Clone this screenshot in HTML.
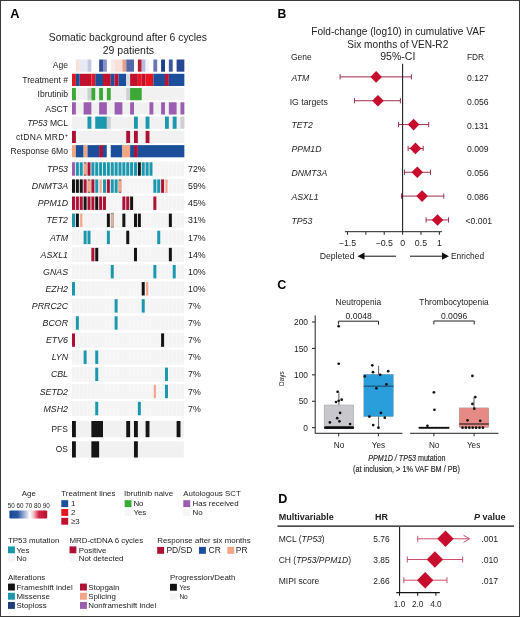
<!DOCTYPE html>
<html><head><meta charset="utf-8"><title>Figure</title>
<style>
html,body{margin:0;padding:0;background:#fff;}
body{width:520px;height:617px;overflow:hidden;}
svg{display:block;will-change:transform;font-family:"Liberation Sans", sans-serif;}
</style></head><body>
<svg width="520" height="617" viewBox="0 0 520 617">
<rect x="0" y="0" width="520" height="617" fill="#fff"/>
<text x="10.30" y="18.30" font-size="12.8" text-anchor="start" font-weight="bold" font-style="normal" fill="#000" >A</text>
<text x="127.90" y="40.80" font-size="10.35" text-anchor="middle" font-weight="normal" font-style="normal" fill="#222" >Somatic background after 6 cycles</text>
<text x="128.40" y="53.90" font-size="10.5" text-anchor="middle" font-weight="normal" font-style="normal" fill="#222" >29 patients</text>
<text x="68.00" y="67.80" font-size="8.55" text-anchor="end" font-weight="normal" font-style="normal" fill="#222" >Age</text>
<text x="68.00" y="82.97" font-size="8.55" text-anchor="end" font-weight="normal" font-style="normal" fill="#222" >Treatment #</text>
<text x="68.00" y="97.24" font-size="8.55" text-anchor="end" font-weight="normal" font-style="normal" fill="#222" >Ibrutinib</text>
<text x="68.00" y="111.51" font-size="8.55" text-anchor="end" font-weight="normal" font-style="normal" fill="#222" >ASCT</text>
<text x="68.00" y="125.78" font-size="8.55" text-anchor="end" font-weight="normal" font-style="normal" fill="#222" ><tspan font-style="italic">TP53</tspan> MCL</text>
<text x="68.00" y="140.05" font-size="8.55" text-anchor="end" font-weight="normal" font-style="normal" fill="#222" ><tspan letter-spacing="0.3">ctDNA MRD</tspan><tspan font-size="5.6" dy="-3">+</tspan></text>
<text x="68.00" y="154.32" font-size="8.55" text-anchor="end" font-weight="normal" font-style="normal" fill="#222" >Response 6Mo</text>
<rect x="75.87" y="59.50" width="3.87" height="12.20" fill="#f7dfda" />
<rect x="79.75" y="59.50" width="7.75" height="12.20" fill="#e7e9f3" />
<rect x="87.50" y="59.50" width="3.87" height="12.20" fill="#c4c8e2" />
<rect x="99.12" y="59.50" width="3.87" height="12.20" fill="#324f97" />
<rect x="102.99" y="59.50" width="3.87" height="12.20" fill="#8890c4" />
<rect x="110.74" y="59.50" width="3.87" height="12.20" fill="#faeae6" />
<rect x="114.61" y="59.50" width="7.75" height="12.20" fill="#f7dfda" />
<rect x="122.36" y="59.50" width="3.87" height="12.20" fill="#e79f90" />
<rect x="126.24" y="59.50" width="7.75" height="12.20" fill="#5268a8" />
<rect x="137.86" y="59.50" width="3.87" height="12.20" fill="#b51d35" />
<rect x="141.73" y="59.50" width="3.87" height="12.20" fill="#b8bcdc" />
<rect x="145.61" y="59.50" width="3.87" height="12.20" fill="#f3f4f9" />
<rect x="153.35" y="59.50" width="3.87" height="12.20" fill="#6878b3" />
<rect x="161.10" y="59.50" width="3.87" height="12.20" fill="#1d3f8c" />
<rect x="168.85" y="59.50" width="3.87" height="12.20" fill="#3d579d" />
<rect x="176.60" y="59.50" width="7.75" height="12.20" fill="#284792" />
<rect x="72.00" y="73.77" width="3.87" height="12.20" fill="#e5161f" />
<rect x="75.87" y="73.77" width="3.87" height="12.20" fill="#1b4f9b" />
<rect x="79.75" y="73.77" width="11.62" height="12.20" fill="#c1112f" />
<rect x="91.37" y="73.77" width="3.87" height="12.20" fill="#e5161f" />
<rect x="95.24" y="73.77" width="7.75" height="12.20" fill="#1b4f9b" />
<rect x="102.99" y="73.77" width="7.75" height="12.20" fill="#c1112f" />
<rect x="110.74" y="73.77" width="3.87" height="12.20" fill="#1b4f9b" />
<rect x="114.61" y="73.77" width="3.87" height="12.20" fill="#c1112f" />
<rect x="118.49" y="73.77" width="7.75" height="12.20" fill="#1b4f9b" />
<rect x="126.24" y="73.77" width="3.87" height="12.20" fill="#d9dadc" />
<rect x="130.11" y="73.77" width="7.75" height="12.20" fill="#c1112f" />
<rect x="137.86" y="73.77" width="3.87" height="12.20" fill="#e5161f" />
<rect x="141.73" y="73.77" width="3.87" height="12.20" fill="#c1112f" />
<rect x="145.61" y="73.77" width="7.75" height="12.20" fill="#e5161f" />
<rect x="153.35" y="73.77" width="11.62" height="12.20" fill="#1b4f9b" />
<rect x="164.98" y="73.77" width="3.87" height="12.20" fill="#c1112f" />
<rect x="168.85" y="73.77" width="15.50" height="12.20" fill="#1b4f9b" />
<rect x="72.00" y="88.04" width="112.35" height="12.20" fill="#f1f1f1" />
<rect x="72.00" y="88.04" width="3.87" height="12.20" fill="#3aa935" />
<rect x="87.50" y="88.04" width="3.87" height="12.20" fill="#cfd0d4" />
<rect x="91.37" y="88.04" width="3.87" height="12.20" fill="#3aa935" />
<rect x="99.12" y="88.04" width="3.87" height="12.20" fill="#3aa935" />
<rect x="106.87" y="88.04" width="3.87" height="12.20" fill="#3aa935" />
<rect x="126.24" y="88.04" width="3.87" height="12.20" fill="#cfd0d4" />
<rect x="130.11" y="88.04" width="11.62" height="12.20" fill="#3aa935" />
<rect x="72.00" y="102.31" width="112.35" height="12.20" fill="#f1f1f1" />
<rect x="72.00" y="102.31" width="3.87" height="12.20" fill="#9a5db0" />
<rect x="83.62" y="102.31" width="7.75" height="12.20" fill="#9a5db0" />
<rect x="99.12" y="102.31" width="7.75" height="12.20" fill="#9a5db0" />
<rect x="114.61" y="102.31" width="7.75" height="12.20" fill="#9a5db0" />
<rect x="130.11" y="102.31" width="3.87" height="12.20" fill="#9a5db0" />
<rect x="149.48" y="102.31" width="3.87" height="12.20" fill="#9a5db0" />
<rect x="161.10" y="102.31" width="3.87" height="12.20" fill="#9a5db0" />
<rect x="168.85" y="102.31" width="7.75" height="12.20" fill="#9a5db0" />
<rect x="180.47" y="102.31" width="3.87" height="12.20" fill="#9a5db0" />
<rect x="72.00" y="116.58" width="112.35" height="12.20" fill="#f1f1f1" />
<rect x="87.50" y="116.58" width="3.87" height="12.20" fill="#1b98ae" />
<rect x="95.24" y="116.58" width="11.62" height="12.20" fill="#1b98ae" />
<rect x="106.87" y="116.58" width="3.87" height="12.20" fill="#cfd0d4" />
<rect x="133.98" y="116.58" width="3.87" height="12.20" fill="#1b98ae" />
<rect x="145.61" y="116.58" width="3.87" height="12.20" fill="#1b98ae" />
<rect x="164.98" y="116.58" width="3.87" height="12.20" fill="#1b98ae" />
<rect x="172.72" y="116.58" width="3.87" height="12.20" fill="#1b98ae" />
<rect x="180.47" y="116.58" width="3.87" height="12.20" fill="#cfd0d4" />
<rect x="72.00" y="130.85" width="112.35" height="12.20" fill="#f1f1f1" />
<rect x="72.00" y="130.85" width="3.87" height="12.20" fill="#ad1236" />
<rect x="126.24" y="130.85" width="3.87" height="12.20" fill="#ad1236" />
<rect x="133.98" y="130.85" width="3.87" height="12.20" fill="#ad1236" />
<rect x="145.61" y="130.85" width="3.87" height="12.20" fill="#ad1236" />
<rect x="72.00" y="145.12" width="3.87" height="12.20" fill="#f4a582" />
<rect x="75.87" y="145.12" width="7.75" height="12.20" fill="#1b4f9b" />
<rect x="83.62" y="145.12" width="3.87" height="12.20" fill="#f4a582" />
<rect x="87.50" y="145.12" width="11.62" height="12.20" fill="#1b4f9b" />
<rect x="99.12" y="145.12" width="3.87" height="12.20" fill="#ad1236" />
<rect x="102.99" y="145.12" width="3.87" height="12.20" fill="#1b4f9b" />
<rect x="106.87" y="145.12" width="3.87" height="12.20" fill="#ffffff" />
<rect x="110.74" y="145.12" width="11.62" height="12.20" fill="#1b4f9b" />
<rect x="122.36" y="145.12" width="7.75" height="12.20" fill="#f4a582" />
<rect x="130.11" y="145.12" width="3.87" height="12.20" fill="#1b4f9b" />
<rect x="133.98" y="145.12" width="3.87" height="12.20" fill="#ad1236" />
<rect x="137.86" y="145.12" width="46.49" height="12.20" fill="#1b4f9b" />
<rect x="72.00" y="161.60" width="111.95" height="14.80" fill="#f4f4f4" />
<rect x="75.57" y="161.60" width="0.30" height="14.80" fill="#ffffff" />
<rect x="79.45" y="161.60" width="0.30" height="14.80" fill="#ffffff" />
<rect x="83.32" y="161.60" width="0.30" height="14.80" fill="#ffffff" />
<rect x="87.20" y="161.60" width="0.30" height="14.80" fill="#ffffff" />
<rect x="91.07" y="161.60" width="0.30" height="14.80" fill="#ffffff" />
<rect x="94.94" y="161.60" width="0.30" height="14.80" fill="#ffffff" />
<rect x="98.82" y="161.60" width="0.30" height="14.80" fill="#ffffff" />
<rect x="102.69" y="161.60" width="0.30" height="14.80" fill="#ffffff" />
<rect x="106.57" y="161.60" width="0.30" height="14.80" fill="#ffffff" />
<rect x="110.44" y="161.60" width="0.30" height="14.80" fill="#ffffff" />
<rect x="114.31" y="161.60" width="0.30" height="14.80" fill="#ffffff" />
<rect x="118.19" y="161.60" width="0.30" height="14.80" fill="#ffffff" />
<rect x="122.06" y="161.60" width="0.30" height="14.80" fill="#ffffff" />
<rect x="125.94" y="161.60" width="0.30" height="14.80" fill="#ffffff" />
<rect x="129.81" y="161.60" width="0.30" height="14.80" fill="#ffffff" />
<rect x="133.68" y="161.60" width="0.30" height="14.80" fill="#ffffff" />
<rect x="137.56" y="161.60" width="0.30" height="14.80" fill="#ffffff" />
<rect x="141.43" y="161.60" width="0.30" height="14.80" fill="#ffffff" />
<rect x="145.31" y="161.60" width="0.30" height="14.80" fill="#ffffff" />
<rect x="149.18" y="161.60" width="0.30" height="14.80" fill="#ffffff" />
<rect x="153.05" y="161.60" width="0.30" height="14.80" fill="#ffffff" />
<rect x="156.93" y="161.60" width="0.30" height="14.80" fill="#ffffff" />
<rect x="160.80" y="161.60" width="0.30" height="14.80" fill="#ffffff" />
<rect x="164.68" y="161.60" width="0.30" height="14.80" fill="#ffffff" />
<rect x="168.55" y="161.60" width="0.30" height="14.80" fill="#ffffff" />
<rect x="172.42" y="161.60" width="0.30" height="14.80" fill="#ffffff" />
<rect x="176.30" y="161.60" width="0.30" height="14.80" fill="#ffffff" />
<rect x="180.17" y="161.60" width="0.30" height="14.80" fill="#ffffff" />
<rect x="72.00" y="162.30" width="3.00" height="13.40" fill="#9a5db0" />
<rect x="75.87" y="162.30" width="3.00" height="13.40" fill="#1b98ae" />
<rect x="79.75" y="162.30" width="3.00" height="13.40" fill="#1b98ae" />
<rect x="83.82" y="162.30" width="2.60" height="13.40" fill="#6b5a48" />
<rect x="83.82" y="163.40" width="2.60" height="11.20" fill="#f3a68a" />
<rect x="87.50" y="162.30" width="3.00" height="13.40" fill="#ad1236" />
<rect x="91.37" y="162.30" width="3.00" height="13.40" fill="#1b98ae" />
<rect x="95.24" y="162.30" width="3.00" height="13.40" fill="#1b98ae" />
<rect x="99.12" y="162.30" width="3.00" height="13.40" fill="#1b98ae" />
<rect x="102.99" y="162.30" width="3.00" height="13.40" fill="#1b98ae" />
<rect x="106.87" y="162.30" width="3.00" height="13.40" fill="#1b98ae" />
<rect x="110.74" y="162.30" width="3.00" height="13.40" fill="#1b98ae" />
<rect x="114.61" y="162.30" width="3.00" height="13.40" fill="#1b98ae" />
<rect x="118.49" y="162.30" width="3.00" height="13.40" fill="#1b98ae" />
<rect x="122.36" y="162.30" width="3.00" height="13.40" fill="#1b98ae" />
<rect x="126.24" y="162.30" width="3.00" height="13.40" fill="#1b98ae" />
<rect x="130.11" y="162.30" width="3.00" height="13.40" fill="#1b98ae" />
<rect x="133.98" y="162.30" width="3.00" height="13.40" fill="#1b98ae" />
<rect x="137.86" y="162.30" width="3.00" height="13.40" fill="#141414" />
<rect x="141.73" y="162.30" width="3.00" height="13.40" fill="#1b98ae" />
<rect x="145.61" y="162.30" width="3.00" height="13.40" fill="#1b98ae" />
<rect x="149.48" y="162.30" width="3.00" height="13.40" fill="#1b98ae" />
<text x="68.00" y="172.10" font-size="8.8" text-anchor="end" font-weight="normal" font-style="italic" fill="#222" >TP53</text>
<text x="188.00" y="172.10" font-size="8.8" text-anchor="start" font-weight="normal" font-style="normal" fill="#222" >72%</text>
<rect x="72.00" y="178.71" width="111.95" height="14.80" fill="#f4f4f4" />
<rect x="75.57" y="178.71" width="0.30" height="14.80" fill="#ffffff" />
<rect x="79.45" y="178.71" width="0.30" height="14.80" fill="#ffffff" />
<rect x="83.32" y="178.71" width="0.30" height="14.80" fill="#ffffff" />
<rect x="87.20" y="178.71" width="0.30" height="14.80" fill="#ffffff" />
<rect x="91.07" y="178.71" width="0.30" height="14.80" fill="#ffffff" />
<rect x="94.94" y="178.71" width="0.30" height="14.80" fill="#ffffff" />
<rect x="98.82" y="178.71" width="0.30" height="14.80" fill="#ffffff" />
<rect x="102.69" y="178.71" width="0.30" height="14.80" fill="#ffffff" />
<rect x="106.57" y="178.71" width="0.30" height="14.80" fill="#ffffff" />
<rect x="110.44" y="178.71" width="0.30" height="14.80" fill="#ffffff" />
<rect x="114.31" y="178.71" width="0.30" height="14.80" fill="#ffffff" />
<rect x="118.19" y="178.71" width="0.30" height="14.80" fill="#ffffff" />
<rect x="122.06" y="178.71" width="0.30" height="14.80" fill="#ffffff" />
<rect x="125.94" y="178.71" width="0.30" height="14.80" fill="#ffffff" />
<rect x="129.81" y="178.71" width="0.30" height="14.80" fill="#ffffff" />
<rect x="133.68" y="178.71" width="0.30" height="14.80" fill="#ffffff" />
<rect x="137.56" y="178.71" width="0.30" height="14.80" fill="#ffffff" />
<rect x="141.43" y="178.71" width="0.30" height="14.80" fill="#ffffff" />
<rect x="145.31" y="178.71" width="0.30" height="14.80" fill="#ffffff" />
<rect x="149.18" y="178.71" width="0.30" height="14.80" fill="#ffffff" />
<rect x="153.05" y="178.71" width="0.30" height="14.80" fill="#ffffff" />
<rect x="156.93" y="178.71" width="0.30" height="14.80" fill="#ffffff" />
<rect x="160.80" y="178.71" width="0.30" height="14.80" fill="#ffffff" />
<rect x="164.68" y="178.71" width="0.30" height="14.80" fill="#ffffff" />
<rect x="168.55" y="178.71" width="0.30" height="14.80" fill="#ffffff" />
<rect x="172.42" y="178.71" width="0.30" height="14.80" fill="#ffffff" />
<rect x="176.30" y="178.71" width="0.30" height="14.80" fill="#ffffff" />
<rect x="180.17" y="178.71" width="0.30" height="14.80" fill="#ffffff" />
<rect x="72.00" y="179.41" width="3.00" height="13.40" fill="#141414" />
<rect x="75.87" y="179.41" width="3.00" height="13.40" fill="#141414" />
<rect x="79.75" y="179.41" width="3.00" height="13.40" fill="#141414" />
<rect x="83.62" y="179.41" width="3.00" height="13.40" fill="#ad1236" />
<rect x="87.70" y="179.41" width="2.60" height="13.40" fill="#6b5a48" />
<rect x="87.70" y="180.51" width="2.60" height="11.20" fill="#f3a68a" />
<rect x="91.37" y="179.41" width="3.00" height="13.40" fill="#ad1236" />
<rect x="95.24" y="179.41" width="3.00" height="13.40" fill="#1b98ae" />
<rect x="99.52" y="179.41" width="2.20" height="13.40" fill="#f3a68a" />
<rect x="102.99" y="179.41" width="3.00" height="13.40" fill="#1b98ae" />
<rect x="106.87" y="179.41" width="3.00" height="13.40" fill="#ad1236" />
<rect x="110.74" y="179.41" width="3.00" height="13.40" fill="#1b98ae" />
<rect x="114.61" y="179.41" width="3.00" height="13.40" fill="#1b98ae" />
<rect x="118.69" y="179.41" width="2.60" height="13.40" fill="#6b5a48" />
<rect x="118.69" y="180.51" width="2.60" height="11.20" fill="#f3a68a" />
<rect x="153.35" y="179.41" width="3.00" height="13.40" fill="#1b98ae" />
<rect x="157.23" y="179.41" width="3.00" height="13.40" fill="#1b98ae" />
<rect x="161.10" y="179.41" width="3.00" height="13.40" fill="#ad1236" />
<rect x="165.38" y="179.41" width="2.20" height="13.40" fill="#f3a68a" />
<text x="68.00" y="189.21" font-size="8.8" text-anchor="end" font-weight="normal" font-style="italic" fill="#222" >DNMT3A</text>
<text x="188.00" y="189.21" font-size="8.8" text-anchor="start" font-weight="normal" font-style="normal" fill="#222" >59%</text>
<rect x="72.00" y="195.82" width="111.95" height="14.80" fill="#f4f4f4" />
<rect x="75.57" y="195.82" width="0.30" height="14.80" fill="#ffffff" />
<rect x="79.45" y="195.82" width="0.30" height="14.80" fill="#ffffff" />
<rect x="83.32" y="195.82" width="0.30" height="14.80" fill="#ffffff" />
<rect x="87.20" y="195.82" width="0.30" height="14.80" fill="#ffffff" />
<rect x="91.07" y="195.82" width="0.30" height="14.80" fill="#ffffff" />
<rect x="94.94" y="195.82" width="0.30" height="14.80" fill="#ffffff" />
<rect x="98.82" y="195.82" width="0.30" height="14.80" fill="#ffffff" />
<rect x="102.69" y="195.82" width="0.30" height="14.80" fill="#ffffff" />
<rect x="106.57" y="195.82" width="0.30" height="14.80" fill="#ffffff" />
<rect x="110.44" y="195.82" width="0.30" height="14.80" fill="#ffffff" />
<rect x="114.31" y="195.82" width="0.30" height="14.80" fill="#ffffff" />
<rect x="118.19" y="195.82" width="0.30" height="14.80" fill="#ffffff" />
<rect x="122.06" y="195.82" width="0.30" height="14.80" fill="#ffffff" />
<rect x="125.94" y="195.82" width="0.30" height="14.80" fill="#ffffff" />
<rect x="129.81" y="195.82" width="0.30" height="14.80" fill="#ffffff" />
<rect x="133.68" y="195.82" width="0.30" height="14.80" fill="#ffffff" />
<rect x="137.56" y="195.82" width="0.30" height="14.80" fill="#ffffff" />
<rect x="141.43" y="195.82" width="0.30" height="14.80" fill="#ffffff" />
<rect x="145.31" y="195.82" width="0.30" height="14.80" fill="#ffffff" />
<rect x="149.18" y="195.82" width="0.30" height="14.80" fill="#ffffff" />
<rect x="153.05" y="195.82" width="0.30" height="14.80" fill="#ffffff" />
<rect x="156.93" y="195.82" width="0.30" height="14.80" fill="#ffffff" />
<rect x="160.80" y="195.82" width="0.30" height="14.80" fill="#ffffff" />
<rect x="164.68" y="195.82" width="0.30" height="14.80" fill="#ffffff" />
<rect x="168.55" y="195.82" width="0.30" height="14.80" fill="#ffffff" />
<rect x="172.42" y="195.82" width="0.30" height="14.80" fill="#ffffff" />
<rect x="176.30" y="195.82" width="0.30" height="14.80" fill="#ffffff" />
<rect x="180.17" y="195.82" width="0.30" height="14.80" fill="#ffffff" />
<rect x="72.00" y="196.52" width="3.00" height="13.40" fill="#ad1236" />
<rect x="75.87" y="196.52" width="3.00" height="13.40" fill="#ad1236" />
<rect x="79.75" y="196.52" width="3.00" height="13.40" fill="#ad1236" />
<rect x="83.62" y="196.52" width="3.00" height="13.40" fill="#141414" />
<rect x="87.50" y="196.52" width="3.00" height="13.40" fill="#ad1236" />
<rect x="91.37" y="196.52" width="3.00" height="13.40" fill="#ad1236" />
<rect x="95.24" y="196.52" width="3.00" height="13.40" fill="#141414" />
<rect x="99.12" y="196.52" width="3.00" height="13.40" fill="#ad1236" />
<rect x="102.99" y="196.52" width="3.00" height="13.40" fill="#ad1236" />
<rect x="122.36" y="196.52" width="3.00" height="13.40" fill="#ad1236" />
<rect x="126.24" y="196.52" width="3.00" height="13.40" fill="#ad1236" />
<rect x="130.11" y="196.52" width="3.00" height="13.40" fill="#141414" />
<rect x="153.35" y="196.52" width="3.00" height="13.40" fill="#ad1236" />
<text x="68.00" y="206.32" font-size="8.8" text-anchor="end" font-weight="normal" font-style="italic" fill="#222" >PPM1D</text>
<text x="188.00" y="206.32" font-size="8.8" text-anchor="start" font-weight="normal" font-style="normal" fill="#222" >45%</text>
<rect x="72.00" y="212.93" width="111.95" height="14.80" fill="#f4f4f4" />
<rect x="75.57" y="212.93" width="0.30" height="14.80" fill="#ffffff" />
<rect x="79.45" y="212.93" width="0.30" height="14.80" fill="#ffffff" />
<rect x="83.32" y="212.93" width="0.30" height="14.80" fill="#ffffff" />
<rect x="87.20" y="212.93" width="0.30" height="14.80" fill="#ffffff" />
<rect x="91.07" y="212.93" width="0.30" height="14.80" fill="#ffffff" />
<rect x="94.94" y="212.93" width="0.30" height="14.80" fill="#ffffff" />
<rect x="98.82" y="212.93" width="0.30" height="14.80" fill="#ffffff" />
<rect x="102.69" y="212.93" width="0.30" height="14.80" fill="#ffffff" />
<rect x="106.57" y="212.93" width="0.30" height="14.80" fill="#ffffff" />
<rect x="110.44" y="212.93" width="0.30" height="14.80" fill="#ffffff" />
<rect x="114.31" y="212.93" width="0.30" height="14.80" fill="#ffffff" />
<rect x="118.19" y="212.93" width="0.30" height="14.80" fill="#ffffff" />
<rect x="122.06" y="212.93" width="0.30" height="14.80" fill="#ffffff" />
<rect x="125.94" y="212.93" width="0.30" height="14.80" fill="#ffffff" />
<rect x="129.81" y="212.93" width="0.30" height="14.80" fill="#ffffff" />
<rect x="133.68" y="212.93" width="0.30" height="14.80" fill="#ffffff" />
<rect x="137.56" y="212.93" width="0.30" height="14.80" fill="#ffffff" />
<rect x="141.43" y="212.93" width="0.30" height="14.80" fill="#ffffff" />
<rect x="145.31" y="212.93" width="0.30" height="14.80" fill="#ffffff" />
<rect x="149.18" y="212.93" width="0.30" height="14.80" fill="#ffffff" />
<rect x="153.05" y="212.93" width="0.30" height="14.80" fill="#ffffff" />
<rect x="156.93" y="212.93" width="0.30" height="14.80" fill="#ffffff" />
<rect x="160.80" y="212.93" width="0.30" height="14.80" fill="#ffffff" />
<rect x="164.68" y="212.93" width="0.30" height="14.80" fill="#ffffff" />
<rect x="168.55" y="212.93" width="0.30" height="14.80" fill="#ffffff" />
<rect x="172.42" y="212.93" width="0.30" height="14.80" fill="#ffffff" />
<rect x="176.30" y="212.93" width="0.30" height="14.80" fill="#ffffff" />
<rect x="180.17" y="212.93" width="0.30" height="14.80" fill="#ffffff" />
<rect x="72.00" y="213.63" width="3.00" height="13.40" fill="#1b98ae" />
<rect x="75.87" y="213.63" width="3.00" height="13.40" fill="#141414" />
<rect x="80.15" y="213.63" width="2.20" height="13.40" fill="#f3a68a" />
<rect x="106.87" y="213.63" width="3.00" height="13.40" fill="#141414" />
<rect x="110.84" y="212.83" width="3.00" height="15.00" fill="#a49a92" />
<rect x="111.24" y="214.43" width="2.20" height="11.80" fill="#dcb4a4" />
<rect x="122.36" y="213.63" width="3.00" height="13.40" fill="#141414" />
<rect x="133.98" y="213.63" width="3.00" height="13.40" fill="#141414" />
<rect x="137.86" y="213.63" width="3.00" height="13.40" fill="#141414" />
<rect x="168.85" y="213.63" width="3.00" height="13.40" fill="#141414" />
<text x="68.00" y="223.43" font-size="8.8" text-anchor="end" font-weight="normal" font-style="italic" fill="#222" >TET2</text>
<text x="188.00" y="223.43" font-size="8.8" text-anchor="start" font-weight="normal" font-style="normal" fill="#222" >31%</text>
<rect x="72.00" y="230.04" width="111.95" height="14.80" fill="#f4f4f4" />
<rect x="75.57" y="230.04" width="0.30" height="14.80" fill="#ffffff" />
<rect x="79.45" y="230.04" width="0.30" height="14.80" fill="#ffffff" />
<rect x="83.32" y="230.04" width="0.30" height="14.80" fill="#ffffff" />
<rect x="87.20" y="230.04" width="0.30" height="14.80" fill="#ffffff" />
<rect x="91.07" y="230.04" width="0.30" height="14.80" fill="#ffffff" />
<rect x="94.94" y="230.04" width="0.30" height="14.80" fill="#ffffff" />
<rect x="98.82" y="230.04" width="0.30" height="14.80" fill="#ffffff" />
<rect x="102.69" y="230.04" width="0.30" height="14.80" fill="#ffffff" />
<rect x="106.57" y="230.04" width="0.30" height="14.80" fill="#ffffff" />
<rect x="110.44" y="230.04" width="0.30" height="14.80" fill="#ffffff" />
<rect x="114.31" y="230.04" width="0.30" height="14.80" fill="#ffffff" />
<rect x="118.19" y="230.04" width="0.30" height="14.80" fill="#ffffff" />
<rect x="122.06" y="230.04" width="0.30" height="14.80" fill="#ffffff" />
<rect x="125.94" y="230.04" width="0.30" height="14.80" fill="#ffffff" />
<rect x="129.81" y="230.04" width="0.30" height="14.80" fill="#ffffff" />
<rect x="133.68" y="230.04" width="0.30" height="14.80" fill="#ffffff" />
<rect x="137.56" y="230.04" width="0.30" height="14.80" fill="#ffffff" />
<rect x="141.43" y="230.04" width="0.30" height="14.80" fill="#ffffff" />
<rect x="145.31" y="230.04" width="0.30" height="14.80" fill="#ffffff" />
<rect x="149.18" y="230.04" width="0.30" height="14.80" fill="#ffffff" />
<rect x="153.05" y="230.04" width="0.30" height="14.80" fill="#ffffff" />
<rect x="156.93" y="230.04" width="0.30" height="14.80" fill="#ffffff" />
<rect x="160.80" y="230.04" width="0.30" height="14.80" fill="#ffffff" />
<rect x="164.68" y="230.04" width="0.30" height="14.80" fill="#ffffff" />
<rect x="168.55" y="230.04" width="0.30" height="14.80" fill="#ffffff" />
<rect x="172.42" y="230.04" width="0.30" height="14.80" fill="#ffffff" />
<rect x="176.30" y="230.04" width="0.30" height="14.80" fill="#ffffff" />
<rect x="180.17" y="230.04" width="0.30" height="14.80" fill="#ffffff" />
<rect x="83.62" y="230.74" width="3.00" height="13.40" fill="#1b98ae" />
<rect x="87.50" y="230.74" width="3.00" height="13.40" fill="#1b98ae" />
<rect x="106.87" y="230.74" width="3.00" height="13.40" fill="#1b98ae" />
<rect x="126.24" y="230.74" width="3.00" height="13.40" fill="#141414" />
<rect x="157.23" y="230.74" width="3.00" height="13.40" fill="#1b98ae" />
<text x="68.00" y="240.54" font-size="8.8" text-anchor="end" font-weight="normal" font-style="italic" fill="#222" >ATM</text>
<text x="188.00" y="240.54" font-size="8.8" text-anchor="start" font-weight="normal" font-style="normal" fill="#222" >17%</text>
<rect x="72.00" y="247.15" width="111.95" height="14.80" fill="#f4f4f4" />
<rect x="75.57" y="247.15" width="0.30" height="14.80" fill="#ffffff" />
<rect x="79.45" y="247.15" width="0.30" height="14.80" fill="#ffffff" />
<rect x="83.32" y="247.15" width="0.30" height="14.80" fill="#ffffff" />
<rect x="87.20" y="247.15" width="0.30" height="14.80" fill="#ffffff" />
<rect x="91.07" y="247.15" width="0.30" height="14.80" fill="#ffffff" />
<rect x="94.94" y="247.15" width="0.30" height="14.80" fill="#ffffff" />
<rect x="98.82" y="247.15" width="0.30" height="14.80" fill="#ffffff" />
<rect x="102.69" y="247.15" width="0.30" height="14.80" fill="#ffffff" />
<rect x="106.57" y="247.15" width="0.30" height="14.80" fill="#ffffff" />
<rect x="110.44" y="247.15" width="0.30" height="14.80" fill="#ffffff" />
<rect x="114.31" y="247.15" width="0.30" height="14.80" fill="#ffffff" />
<rect x="118.19" y="247.15" width="0.30" height="14.80" fill="#ffffff" />
<rect x="122.06" y="247.15" width="0.30" height="14.80" fill="#ffffff" />
<rect x="125.94" y="247.15" width="0.30" height="14.80" fill="#ffffff" />
<rect x="129.81" y="247.15" width="0.30" height="14.80" fill="#ffffff" />
<rect x="133.68" y="247.15" width="0.30" height="14.80" fill="#ffffff" />
<rect x="137.56" y="247.15" width="0.30" height="14.80" fill="#ffffff" />
<rect x="141.43" y="247.15" width="0.30" height="14.80" fill="#ffffff" />
<rect x="145.31" y="247.15" width="0.30" height="14.80" fill="#ffffff" />
<rect x="149.18" y="247.15" width="0.30" height="14.80" fill="#ffffff" />
<rect x="153.05" y="247.15" width="0.30" height="14.80" fill="#ffffff" />
<rect x="156.93" y="247.15" width="0.30" height="14.80" fill="#ffffff" />
<rect x="160.80" y="247.15" width="0.30" height="14.80" fill="#ffffff" />
<rect x="164.68" y="247.15" width="0.30" height="14.80" fill="#ffffff" />
<rect x="168.55" y="247.15" width="0.30" height="14.80" fill="#ffffff" />
<rect x="172.42" y="247.15" width="0.30" height="14.80" fill="#ffffff" />
<rect x="176.30" y="247.15" width="0.30" height="14.80" fill="#ffffff" />
<rect x="180.17" y="247.15" width="0.30" height="14.80" fill="#ffffff" />
<rect x="91.37" y="247.85" width="3.00" height="13.40" fill="#ad1236" />
<rect x="95.24" y="247.85" width="3.00" height="13.40" fill="#141414" />
<rect x="133.98" y="247.85" width="3.00" height="13.40" fill="#141414" />
<rect x="168.85" y="247.85" width="3.00" height="13.40" fill="#141414" />
<text x="68.00" y="257.65" font-size="8.8" text-anchor="end" font-weight="normal" font-style="italic" fill="#222" >ASXL1</text>
<text x="188.00" y="257.65" font-size="8.8" text-anchor="start" font-weight="normal" font-style="normal" fill="#222" >14%</text>
<rect x="72.00" y="264.26" width="111.95" height="14.80" fill="#f4f4f4" />
<rect x="75.57" y="264.26" width="0.30" height="14.80" fill="#ffffff" />
<rect x="79.45" y="264.26" width="0.30" height="14.80" fill="#ffffff" />
<rect x="83.32" y="264.26" width="0.30" height="14.80" fill="#ffffff" />
<rect x="87.20" y="264.26" width="0.30" height="14.80" fill="#ffffff" />
<rect x="91.07" y="264.26" width="0.30" height="14.80" fill="#ffffff" />
<rect x="94.94" y="264.26" width="0.30" height="14.80" fill="#ffffff" />
<rect x="98.82" y="264.26" width="0.30" height="14.80" fill="#ffffff" />
<rect x="102.69" y="264.26" width="0.30" height="14.80" fill="#ffffff" />
<rect x="106.57" y="264.26" width="0.30" height="14.80" fill="#ffffff" />
<rect x="110.44" y="264.26" width="0.30" height="14.80" fill="#ffffff" />
<rect x="114.31" y="264.26" width="0.30" height="14.80" fill="#ffffff" />
<rect x="118.19" y="264.26" width="0.30" height="14.80" fill="#ffffff" />
<rect x="122.06" y="264.26" width="0.30" height="14.80" fill="#ffffff" />
<rect x="125.94" y="264.26" width="0.30" height="14.80" fill="#ffffff" />
<rect x="129.81" y="264.26" width="0.30" height="14.80" fill="#ffffff" />
<rect x="133.68" y="264.26" width="0.30" height="14.80" fill="#ffffff" />
<rect x="137.56" y="264.26" width="0.30" height="14.80" fill="#ffffff" />
<rect x="141.43" y="264.26" width="0.30" height="14.80" fill="#ffffff" />
<rect x="145.31" y="264.26" width="0.30" height="14.80" fill="#ffffff" />
<rect x="149.18" y="264.26" width="0.30" height="14.80" fill="#ffffff" />
<rect x="153.05" y="264.26" width="0.30" height="14.80" fill="#ffffff" />
<rect x="156.93" y="264.26" width="0.30" height="14.80" fill="#ffffff" />
<rect x="160.80" y="264.26" width="0.30" height="14.80" fill="#ffffff" />
<rect x="164.68" y="264.26" width="0.30" height="14.80" fill="#ffffff" />
<rect x="168.55" y="264.26" width="0.30" height="14.80" fill="#ffffff" />
<rect x="172.42" y="264.26" width="0.30" height="14.80" fill="#ffffff" />
<rect x="176.30" y="264.26" width="0.30" height="14.80" fill="#ffffff" />
<rect x="180.17" y="264.26" width="0.30" height="14.80" fill="#ffffff" />
<rect x="110.74" y="264.96" width="3.00" height="13.40" fill="#1b98ae" />
<rect x="153.35" y="264.96" width="3.00" height="13.40" fill="#1b98ae" />
<rect x="172.72" y="264.96" width="3.00" height="13.40" fill="#1b98ae" />
<text x="68.00" y="274.76" font-size="8.8" text-anchor="end" font-weight="normal" font-style="italic" fill="#222" >GNAS</text>
<text x="188.00" y="274.76" font-size="8.8" text-anchor="start" font-weight="normal" font-style="normal" fill="#222" >10%</text>
<rect x="72.00" y="281.37" width="111.95" height="14.80" fill="#f4f4f4" />
<rect x="75.57" y="281.37" width="0.30" height="14.80" fill="#ffffff" />
<rect x="79.45" y="281.37" width="0.30" height="14.80" fill="#ffffff" />
<rect x="83.32" y="281.37" width="0.30" height="14.80" fill="#ffffff" />
<rect x="87.20" y="281.37" width="0.30" height="14.80" fill="#ffffff" />
<rect x="91.07" y="281.37" width="0.30" height="14.80" fill="#ffffff" />
<rect x="94.94" y="281.37" width="0.30" height="14.80" fill="#ffffff" />
<rect x="98.82" y="281.37" width="0.30" height="14.80" fill="#ffffff" />
<rect x="102.69" y="281.37" width="0.30" height="14.80" fill="#ffffff" />
<rect x="106.57" y="281.37" width="0.30" height="14.80" fill="#ffffff" />
<rect x="110.44" y="281.37" width="0.30" height="14.80" fill="#ffffff" />
<rect x="114.31" y="281.37" width="0.30" height="14.80" fill="#ffffff" />
<rect x="118.19" y="281.37" width="0.30" height="14.80" fill="#ffffff" />
<rect x="122.06" y="281.37" width="0.30" height="14.80" fill="#ffffff" />
<rect x="125.94" y="281.37" width="0.30" height="14.80" fill="#ffffff" />
<rect x="129.81" y="281.37" width="0.30" height="14.80" fill="#ffffff" />
<rect x="133.68" y="281.37" width="0.30" height="14.80" fill="#ffffff" />
<rect x="137.56" y="281.37" width="0.30" height="14.80" fill="#ffffff" />
<rect x="141.43" y="281.37" width="0.30" height="14.80" fill="#ffffff" />
<rect x="145.31" y="281.37" width="0.30" height="14.80" fill="#ffffff" />
<rect x="149.18" y="281.37" width="0.30" height="14.80" fill="#ffffff" />
<rect x="153.05" y="281.37" width="0.30" height="14.80" fill="#ffffff" />
<rect x="156.93" y="281.37" width="0.30" height="14.80" fill="#ffffff" />
<rect x="160.80" y="281.37" width="0.30" height="14.80" fill="#ffffff" />
<rect x="164.68" y="281.37" width="0.30" height="14.80" fill="#ffffff" />
<rect x="168.55" y="281.37" width="0.30" height="14.80" fill="#ffffff" />
<rect x="172.42" y="281.37" width="0.30" height="14.80" fill="#ffffff" />
<rect x="176.30" y="281.37" width="0.30" height="14.80" fill="#ffffff" />
<rect x="180.17" y="281.37" width="0.30" height="14.80" fill="#ffffff" />
<rect x="72.00" y="282.07" width="3.00" height="13.40" fill="#1b98ae" />
<rect x="141.73" y="282.07" width="3.00" height="13.40" fill="#141414" />
<rect x="146.01" y="282.07" width="2.20" height="13.40" fill="#f3a68a" />
<text x="68.00" y="291.87" font-size="8.8" text-anchor="end" font-weight="normal" font-style="italic" fill="#222" >EZH2</text>
<text x="188.00" y="291.87" font-size="8.8" text-anchor="start" font-weight="normal" font-style="normal" fill="#222" >10%</text>
<rect x="72.00" y="298.48" width="111.95" height="14.80" fill="#f4f4f4" />
<rect x="75.57" y="298.48" width="0.30" height="14.80" fill="#ffffff" />
<rect x="79.45" y="298.48" width="0.30" height="14.80" fill="#ffffff" />
<rect x="83.32" y="298.48" width="0.30" height="14.80" fill="#ffffff" />
<rect x="87.20" y="298.48" width="0.30" height="14.80" fill="#ffffff" />
<rect x="91.07" y="298.48" width="0.30" height="14.80" fill="#ffffff" />
<rect x="94.94" y="298.48" width="0.30" height="14.80" fill="#ffffff" />
<rect x="98.82" y="298.48" width="0.30" height="14.80" fill="#ffffff" />
<rect x="102.69" y="298.48" width="0.30" height="14.80" fill="#ffffff" />
<rect x="106.57" y="298.48" width="0.30" height="14.80" fill="#ffffff" />
<rect x="110.44" y="298.48" width="0.30" height="14.80" fill="#ffffff" />
<rect x="114.31" y="298.48" width="0.30" height="14.80" fill="#ffffff" />
<rect x="118.19" y="298.48" width="0.30" height="14.80" fill="#ffffff" />
<rect x="122.06" y="298.48" width="0.30" height="14.80" fill="#ffffff" />
<rect x="125.94" y="298.48" width="0.30" height="14.80" fill="#ffffff" />
<rect x="129.81" y="298.48" width="0.30" height="14.80" fill="#ffffff" />
<rect x="133.68" y="298.48" width="0.30" height="14.80" fill="#ffffff" />
<rect x="137.56" y="298.48" width="0.30" height="14.80" fill="#ffffff" />
<rect x="141.43" y="298.48" width="0.30" height="14.80" fill="#ffffff" />
<rect x="145.31" y="298.48" width="0.30" height="14.80" fill="#ffffff" />
<rect x="149.18" y="298.48" width="0.30" height="14.80" fill="#ffffff" />
<rect x="153.05" y="298.48" width="0.30" height="14.80" fill="#ffffff" />
<rect x="156.93" y="298.48" width="0.30" height="14.80" fill="#ffffff" />
<rect x="160.80" y="298.48" width="0.30" height="14.80" fill="#ffffff" />
<rect x="164.68" y="298.48" width="0.30" height="14.80" fill="#ffffff" />
<rect x="168.55" y="298.48" width="0.30" height="14.80" fill="#ffffff" />
<rect x="172.42" y="298.48" width="0.30" height="14.80" fill="#ffffff" />
<rect x="176.30" y="298.48" width="0.30" height="14.80" fill="#ffffff" />
<rect x="180.17" y="298.48" width="0.30" height="14.80" fill="#ffffff" />
<rect x="114.61" y="299.18" width="3.00" height="13.40" fill="#1b98ae" />
<rect x="141.73" y="299.18" width="3.00" height="13.40" fill="#1b98ae" />
<text x="68.00" y="308.98" font-size="8.8" text-anchor="end" font-weight="normal" font-style="italic" fill="#222" >PRRC2C</text>
<text x="188.00" y="308.98" font-size="8.8" text-anchor="start" font-weight="normal" font-style="normal" fill="#222" >7%</text>
<rect x="72.00" y="315.59" width="111.95" height="14.80" fill="#f4f4f4" />
<rect x="75.57" y="315.59" width="0.30" height="14.80" fill="#ffffff" />
<rect x="79.45" y="315.59" width="0.30" height="14.80" fill="#ffffff" />
<rect x="83.32" y="315.59" width="0.30" height="14.80" fill="#ffffff" />
<rect x="87.20" y="315.59" width="0.30" height="14.80" fill="#ffffff" />
<rect x="91.07" y="315.59" width="0.30" height="14.80" fill="#ffffff" />
<rect x="94.94" y="315.59" width="0.30" height="14.80" fill="#ffffff" />
<rect x="98.82" y="315.59" width="0.30" height="14.80" fill="#ffffff" />
<rect x="102.69" y="315.59" width="0.30" height="14.80" fill="#ffffff" />
<rect x="106.57" y="315.59" width="0.30" height="14.80" fill="#ffffff" />
<rect x="110.44" y="315.59" width="0.30" height="14.80" fill="#ffffff" />
<rect x="114.31" y="315.59" width="0.30" height="14.80" fill="#ffffff" />
<rect x="118.19" y="315.59" width="0.30" height="14.80" fill="#ffffff" />
<rect x="122.06" y="315.59" width="0.30" height="14.80" fill="#ffffff" />
<rect x="125.94" y="315.59" width="0.30" height="14.80" fill="#ffffff" />
<rect x="129.81" y="315.59" width="0.30" height="14.80" fill="#ffffff" />
<rect x="133.68" y="315.59" width="0.30" height="14.80" fill="#ffffff" />
<rect x="137.56" y="315.59" width="0.30" height="14.80" fill="#ffffff" />
<rect x="141.43" y="315.59" width="0.30" height="14.80" fill="#ffffff" />
<rect x="145.31" y="315.59" width="0.30" height="14.80" fill="#ffffff" />
<rect x="149.18" y="315.59" width="0.30" height="14.80" fill="#ffffff" />
<rect x="153.05" y="315.59" width="0.30" height="14.80" fill="#ffffff" />
<rect x="156.93" y="315.59" width="0.30" height="14.80" fill="#ffffff" />
<rect x="160.80" y="315.59" width="0.30" height="14.80" fill="#ffffff" />
<rect x="164.68" y="315.59" width="0.30" height="14.80" fill="#ffffff" />
<rect x="168.55" y="315.59" width="0.30" height="14.80" fill="#ffffff" />
<rect x="172.42" y="315.59" width="0.30" height="14.80" fill="#ffffff" />
<rect x="176.30" y="315.59" width="0.30" height="14.80" fill="#ffffff" />
<rect x="180.17" y="315.59" width="0.30" height="14.80" fill="#ffffff" />
<rect x="75.87" y="316.29" width="3.00" height="13.40" fill="#1b98ae" />
<rect x="114.61" y="316.29" width="3.00" height="13.40" fill="#1b98ae" />
<text x="68.00" y="326.09" font-size="8.8" text-anchor="end" font-weight="normal" font-style="italic" fill="#222" >BCOR</text>
<text x="188.00" y="326.09" font-size="8.8" text-anchor="start" font-weight="normal" font-style="normal" fill="#222" >7%</text>
<rect x="72.00" y="332.70" width="111.95" height="14.80" fill="#f4f4f4" />
<rect x="75.57" y="332.70" width="0.30" height="14.80" fill="#ffffff" />
<rect x="79.45" y="332.70" width="0.30" height="14.80" fill="#ffffff" />
<rect x="83.32" y="332.70" width="0.30" height="14.80" fill="#ffffff" />
<rect x="87.20" y="332.70" width="0.30" height="14.80" fill="#ffffff" />
<rect x="91.07" y="332.70" width="0.30" height="14.80" fill="#ffffff" />
<rect x="94.94" y="332.70" width="0.30" height="14.80" fill="#ffffff" />
<rect x="98.82" y="332.70" width="0.30" height="14.80" fill="#ffffff" />
<rect x="102.69" y="332.70" width="0.30" height="14.80" fill="#ffffff" />
<rect x="106.57" y="332.70" width="0.30" height="14.80" fill="#ffffff" />
<rect x="110.44" y="332.70" width="0.30" height="14.80" fill="#ffffff" />
<rect x="114.31" y="332.70" width="0.30" height="14.80" fill="#ffffff" />
<rect x="118.19" y="332.70" width="0.30" height="14.80" fill="#ffffff" />
<rect x="122.06" y="332.70" width="0.30" height="14.80" fill="#ffffff" />
<rect x="125.94" y="332.70" width="0.30" height="14.80" fill="#ffffff" />
<rect x="129.81" y="332.70" width="0.30" height="14.80" fill="#ffffff" />
<rect x="133.68" y="332.70" width="0.30" height="14.80" fill="#ffffff" />
<rect x="137.56" y="332.70" width="0.30" height="14.80" fill="#ffffff" />
<rect x="141.43" y="332.70" width="0.30" height="14.80" fill="#ffffff" />
<rect x="145.31" y="332.70" width="0.30" height="14.80" fill="#ffffff" />
<rect x="149.18" y="332.70" width="0.30" height="14.80" fill="#ffffff" />
<rect x="153.05" y="332.70" width="0.30" height="14.80" fill="#ffffff" />
<rect x="156.93" y="332.70" width="0.30" height="14.80" fill="#ffffff" />
<rect x="160.80" y="332.70" width="0.30" height="14.80" fill="#ffffff" />
<rect x="164.68" y="332.70" width="0.30" height="14.80" fill="#ffffff" />
<rect x="168.55" y="332.70" width="0.30" height="14.80" fill="#ffffff" />
<rect x="172.42" y="332.70" width="0.30" height="14.80" fill="#ffffff" />
<rect x="176.30" y="332.70" width="0.30" height="14.80" fill="#ffffff" />
<rect x="180.17" y="332.70" width="0.30" height="14.80" fill="#ffffff" />
<rect x="72.00" y="333.40" width="3.00" height="13.40" fill="#ad1236" />
<rect x="161.10" y="333.40" width="3.00" height="13.40" fill="#141414" />
<text x="68.00" y="343.20" font-size="8.8" text-anchor="end" font-weight="normal" font-style="italic" fill="#222" >ETV6</text>
<text x="188.00" y="343.20" font-size="8.8" text-anchor="start" font-weight="normal" font-style="normal" fill="#222" >7%</text>
<rect x="72.00" y="349.81" width="111.95" height="14.80" fill="#f4f4f4" />
<rect x="75.57" y="349.81" width="0.30" height="14.80" fill="#ffffff" />
<rect x="79.45" y="349.81" width="0.30" height="14.80" fill="#ffffff" />
<rect x="83.32" y="349.81" width="0.30" height="14.80" fill="#ffffff" />
<rect x="87.20" y="349.81" width="0.30" height="14.80" fill="#ffffff" />
<rect x="91.07" y="349.81" width="0.30" height="14.80" fill="#ffffff" />
<rect x="94.94" y="349.81" width="0.30" height="14.80" fill="#ffffff" />
<rect x="98.82" y="349.81" width="0.30" height="14.80" fill="#ffffff" />
<rect x="102.69" y="349.81" width="0.30" height="14.80" fill="#ffffff" />
<rect x="106.57" y="349.81" width="0.30" height="14.80" fill="#ffffff" />
<rect x="110.44" y="349.81" width="0.30" height="14.80" fill="#ffffff" />
<rect x="114.31" y="349.81" width="0.30" height="14.80" fill="#ffffff" />
<rect x="118.19" y="349.81" width="0.30" height="14.80" fill="#ffffff" />
<rect x="122.06" y="349.81" width="0.30" height="14.80" fill="#ffffff" />
<rect x="125.94" y="349.81" width="0.30" height="14.80" fill="#ffffff" />
<rect x="129.81" y="349.81" width="0.30" height="14.80" fill="#ffffff" />
<rect x="133.68" y="349.81" width="0.30" height="14.80" fill="#ffffff" />
<rect x="137.56" y="349.81" width="0.30" height="14.80" fill="#ffffff" />
<rect x="141.43" y="349.81" width="0.30" height="14.80" fill="#ffffff" />
<rect x="145.31" y="349.81" width="0.30" height="14.80" fill="#ffffff" />
<rect x="149.18" y="349.81" width="0.30" height="14.80" fill="#ffffff" />
<rect x="153.05" y="349.81" width="0.30" height="14.80" fill="#ffffff" />
<rect x="156.93" y="349.81" width="0.30" height="14.80" fill="#ffffff" />
<rect x="160.80" y="349.81" width="0.30" height="14.80" fill="#ffffff" />
<rect x="164.68" y="349.81" width="0.30" height="14.80" fill="#ffffff" />
<rect x="168.55" y="349.81" width="0.30" height="14.80" fill="#ffffff" />
<rect x="172.42" y="349.81" width="0.30" height="14.80" fill="#ffffff" />
<rect x="176.30" y="349.81" width="0.30" height="14.80" fill="#ffffff" />
<rect x="180.17" y="349.81" width="0.30" height="14.80" fill="#ffffff" />
<rect x="83.62" y="350.51" width="3.00" height="13.40" fill="#1b98ae" />
<rect x="95.24" y="350.51" width="3.00" height="13.40" fill="#1b98ae" />
<text x="68.00" y="360.31" font-size="8.8" text-anchor="end" font-weight="normal" font-style="italic" fill="#222" >LYN</text>
<text x="188.00" y="360.31" font-size="8.8" text-anchor="start" font-weight="normal" font-style="normal" fill="#222" >7%</text>
<rect x="72.00" y="366.92" width="111.95" height="14.80" fill="#f4f4f4" />
<rect x="75.57" y="366.92" width="0.30" height="14.80" fill="#ffffff" />
<rect x="79.45" y="366.92" width="0.30" height="14.80" fill="#ffffff" />
<rect x="83.32" y="366.92" width="0.30" height="14.80" fill="#ffffff" />
<rect x="87.20" y="366.92" width="0.30" height="14.80" fill="#ffffff" />
<rect x="91.07" y="366.92" width="0.30" height="14.80" fill="#ffffff" />
<rect x="94.94" y="366.92" width="0.30" height="14.80" fill="#ffffff" />
<rect x="98.82" y="366.92" width="0.30" height="14.80" fill="#ffffff" />
<rect x="102.69" y="366.92" width="0.30" height="14.80" fill="#ffffff" />
<rect x="106.57" y="366.92" width="0.30" height="14.80" fill="#ffffff" />
<rect x="110.44" y="366.92" width="0.30" height="14.80" fill="#ffffff" />
<rect x="114.31" y="366.92" width="0.30" height="14.80" fill="#ffffff" />
<rect x="118.19" y="366.92" width="0.30" height="14.80" fill="#ffffff" />
<rect x="122.06" y="366.92" width="0.30" height="14.80" fill="#ffffff" />
<rect x="125.94" y="366.92" width="0.30" height="14.80" fill="#ffffff" />
<rect x="129.81" y="366.92" width="0.30" height="14.80" fill="#ffffff" />
<rect x="133.68" y="366.92" width="0.30" height="14.80" fill="#ffffff" />
<rect x="137.56" y="366.92" width="0.30" height="14.80" fill="#ffffff" />
<rect x="141.43" y="366.92" width="0.30" height="14.80" fill="#ffffff" />
<rect x="145.31" y="366.92" width="0.30" height="14.80" fill="#ffffff" />
<rect x="149.18" y="366.92" width="0.30" height="14.80" fill="#ffffff" />
<rect x="153.05" y="366.92" width="0.30" height="14.80" fill="#ffffff" />
<rect x="156.93" y="366.92" width="0.30" height="14.80" fill="#ffffff" />
<rect x="160.80" y="366.92" width="0.30" height="14.80" fill="#ffffff" />
<rect x="164.68" y="366.92" width="0.30" height="14.80" fill="#ffffff" />
<rect x="168.55" y="366.92" width="0.30" height="14.80" fill="#ffffff" />
<rect x="172.42" y="366.92" width="0.30" height="14.80" fill="#ffffff" />
<rect x="176.30" y="366.92" width="0.30" height="14.80" fill="#ffffff" />
<rect x="180.17" y="366.92" width="0.30" height="14.80" fill="#ffffff" />
<rect x="95.24" y="367.62" width="3.00" height="13.40" fill="#1b98ae" />
<rect x="164.98" y="367.62" width="3.00" height="13.40" fill="#1b98ae" />
<text x="68.00" y="377.42" font-size="8.8" text-anchor="end" font-weight="normal" font-style="italic" fill="#222" >CBL</text>
<text x="188.00" y="377.42" font-size="8.8" text-anchor="start" font-weight="normal" font-style="normal" fill="#222" >7%</text>
<rect x="72.00" y="384.03" width="111.95" height="14.80" fill="#f4f4f4" />
<rect x="75.57" y="384.03" width="0.30" height="14.80" fill="#ffffff" />
<rect x="79.45" y="384.03" width="0.30" height="14.80" fill="#ffffff" />
<rect x="83.32" y="384.03" width="0.30" height="14.80" fill="#ffffff" />
<rect x="87.20" y="384.03" width="0.30" height="14.80" fill="#ffffff" />
<rect x="91.07" y="384.03" width="0.30" height="14.80" fill="#ffffff" />
<rect x="94.94" y="384.03" width="0.30" height="14.80" fill="#ffffff" />
<rect x="98.82" y="384.03" width="0.30" height="14.80" fill="#ffffff" />
<rect x="102.69" y="384.03" width="0.30" height="14.80" fill="#ffffff" />
<rect x="106.57" y="384.03" width="0.30" height="14.80" fill="#ffffff" />
<rect x="110.44" y="384.03" width="0.30" height="14.80" fill="#ffffff" />
<rect x="114.31" y="384.03" width="0.30" height="14.80" fill="#ffffff" />
<rect x="118.19" y="384.03" width="0.30" height="14.80" fill="#ffffff" />
<rect x="122.06" y="384.03" width="0.30" height="14.80" fill="#ffffff" />
<rect x="125.94" y="384.03" width="0.30" height="14.80" fill="#ffffff" />
<rect x="129.81" y="384.03" width="0.30" height="14.80" fill="#ffffff" />
<rect x="133.68" y="384.03" width="0.30" height="14.80" fill="#ffffff" />
<rect x="137.56" y="384.03" width="0.30" height="14.80" fill="#ffffff" />
<rect x="141.43" y="384.03" width="0.30" height="14.80" fill="#ffffff" />
<rect x="145.31" y="384.03" width="0.30" height="14.80" fill="#ffffff" />
<rect x="149.18" y="384.03" width="0.30" height="14.80" fill="#ffffff" />
<rect x="153.05" y="384.03" width="0.30" height="14.80" fill="#ffffff" />
<rect x="156.93" y="384.03" width="0.30" height="14.80" fill="#ffffff" />
<rect x="160.80" y="384.03" width="0.30" height="14.80" fill="#ffffff" />
<rect x="164.68" y="384.03" width="0.30" height="14.80" fill="#ffffff" />
<rect x="168.55" y="384.03" width="0.30" height="14.80" fill="#ffffff" />
<rect x="172.42" y="384.03" width="0.30" height="14.80" fill="#ffffff" />
<rect x="176.30" y="384.03" width="0.30" height="14.80" fill="#ffffff" />
<rect x="180.17" y="384.03" width="0.30" height="14.80" fill="#ffffff" />
<rect x="153.75" y="384.73" width="2.20" height="13.40" fill="#f3a68a" />
<rect x="164.98" y="384.73" width="3.00" height="13.40" fill="#1b98ae" />
<text x="68.00" y="394.53" font-size="8.8" text-anchor="end" font-weight="normal" font-style="italic" fill="#222" >SETD2</text>
<text x="188.00" y="394.53" font-size="8.8" text-anchor="start" font-weight="normal" font-style="normal" fill="#222" >7%</text>
<rect x="72.00" y="401.14" width="111.95" height="14.80" fill="#f4f4f4" />
<rect x="75.57" y="401.14" width="0.30" height="14.80" fill="#ffffff" />
<rect x="79.45" y="401.14" width="0.30" height="14.80" fill="#ffffff" />
<rect x="83.32" y="401.14" width="0.30" height="14.80" fill="#ffffff" />
<rect x="87.20" y="401.14" width="0.30" height="14.80" fill="#ffffff" />
<rect x="91.07" y="401.14" width="0.30" height="14.80" fill="#ffffff" />
<rect x="94.94" y="401.14" width="0.30" height="14.80" fill="#ffffff" />
<rect x="98.82" y="401.14" width="0.30" height="14.80" fill="#ffffff" />
<rect x="102.69" y="401.14" width="0.30" height="14.80" fill="#ffffff" />
<rect x="106.57" y="401.14" width="0.30" height="14.80" fill="#ffffff" />
<rect x="110.44" y="401.14" width="0.30" height="14.80" fill="#ffffff" />
<rect x="114.31" y="401.14" width="0.30" height="14.80" fill="#ffffff" />
<rect x="118.19" y="401.14" width="0.30" height="14.80" fill="#ffffff" />
<rect x="122.06" y="401.14" width="0.30" height="14.80" fill="#ffffff" />
<rect x="125.94" y="401.14" width="0.30" height="14.80" fill="#ffffff" />
<rect x="129.81" y="401.14" width="0.30" height="14.80" fill="#ffffff" />
<rect x="133.68" y="401.14" width="0.30" height="14.80" fill="#ffffff" />
<rect x="137.56" y="401.14" width="0.30" height="14.80" fill="#ffffff" />
<rect x="141.43" y="401.14" width="0.30" height="14.80" fill="#ffffff" />
<rect x="145.31" y="401.14" width="0.30" height="14.80" fill="#ffffff" />
<rect x="149.18" y="401.14" width="0.30" height="14.80" fill="#ffffff" />
<rect x="153.05" y="401.14" width="0.30" height="14.80" fill="#ffffff" />
<rect x="156.93" y="401.14" width="0.30" height="14.80" fill="#ffffff" />
<rect x="160.80" y="401.14" width="0.30" height="14.80" fill="#ffffff" />
<rect x="164.68" y="401.14" width="0.30" height="14.80" fill="#ffffff" />
<rect x="168.55" y="401.14" width="0.30" height="14.80" fill="#ffffff" />
<rect x="172.42" y="401.14" width="0.30" height="14.80" fill="#ffffff" />
<rect x="176.30" y="401.14" width="0.30" height="14.80" fill="#ffffff" />
<rect x="180.17" y="401.14" width="0.30" height="14.80" fill="#ffffff" />
<rect x="95.24" y="401.84" width="3.00" height="13.40" fill="#1b98ae" />
<rect x="137.86" y="401.84" width="3.00" height="13.40" fill="#1b98ae" />
<text x="68.00" y="411.64" font-size="8.8" text-anchor="end" font-weight="normal" font-style="italic" fill="#222" >MSH2</text>
<text x="188.00" y="411.64" font-size="8.8" text-anchor="start" font-weight="normal" font-style="normal" fill="#222" >7%</text>
<rect x="72.00" y="421.00" width="111.85" height="16.20" fill="#f1f1f1" />
<rect x="72.00" y="421.00" width="3.87" height="16.20" fill="#141414" />
<rect x="91.37" y="421.00" width="11.62" height="16.20" fill="#141414" />
<rect x="126.24" y="421.00" width="3.87" height="16.20" fill="#141414" />
<rect x="133.98" y="421.00" width="3.87" height="16.20" fill="#141414" />
<rect x="145.61" y="421.00" width="3.87" height="16.20" fill="#141414" />
<rect x="176.60" y="421.00" width="3.87" height="16.20" fill="#141414" />
<text x="67.80" y="432.10" font-size="8.4" text-anchor="end" font-weight="normal" font-style="normal" fill="#222" >PFS</text>
<rect x="72.00" y="441.30" width="111.85" height="16.20" fill="#f1f1f1" />
<rect x="72.00" y="441.30" width="3.87" height="16.20" fill="#141414" />
<rect x="91.37" y="441.30" width="7.75" height="16.20" fill="#141414" />
<rect x="133.98" y="441.30" width="3.87" height="16.20" fill="#141414" />
<text x="67.80" y="452.40" font-size="8.4" text-anchor="end" font-weight="normal" font-style="normal" fill="#222" >OS</text>
<text x="28.80" y="496.40" font-size="7.9" text-anchor="middle" font-weight="normal" font-style="normal" fill="#222" >Age</text>
<text x="28.80" y="507.60" font-size="6.3" text-anchor="middle" font-weight="normal" font-style="normal" fill="#222" >50 60 70 80 90</text>
<defs><linearGradient id="ag" x1="0" x2="1" y1="0" y2="0"><stop offset="0" stop-color="#1a4a96"/><stop offset="0.22" stop-color="#2a58a4"/><stop offset="0.45" stop-color="#c4cce6"/><stop offset="0.54" stop-color="#ffffff"/><stop offset="0.64" stop-color="#f2c0c4"/><stop offset="0.78" stop-color="#d02444"/><stop offset="1" stop-color="#b80f2e"/></linearGradient><filter id="bl" x="-0.2" y="-0.5" width="1.4" height="2"><feGaussianBlur stdDeviation="0.55"/></filter></defs>
<rect x="9.40" y="510.60" width="37.80" height="7.80" fill="url(#ag)" rx="1" filter="url(#bl)"/>
<text x="61.30" y="496.40" font-size="7.9" text-anchor="start" font-weight="normal" font-style="normal" fill="#222" >Treatment lines</text>
<rect x="61.30" y="500.20" width="6.90" height="6.90" fill="#1b4f9b" />
<text x="71.00" y="506.40" font-size="7.9" text-anchor="start" font-weight="normal" font-style="normal" fill="#222" >1</text>
<rect x="61.30" y="509.00" width="6.90" height="6.90" fill="#e5161f" />
<text x="71.00" y="515.20" font-size="7.9" text-anchor="start" font-weight="normal" font-style="normal" fill="#222" >2</text>
<rect x="61.30" y="517.80" width="6.90" height="6.90" fill="#c1112f" />
<text x="71.00" y="524.00" font-size="7.9" text-anchor="start" font-weight="normal" font-style="normal" fill="#222" >≥3</text>
<text x="124.00" y="496.40" font-size="7.9" text-anchor="start" font-weight="normal" font-style="normal" fill="#222" >Ibrutinib naive</text>
<rect x="124.60" y="500.20" width="6.90" height="6.90" fill="#3aa935" />
<text x="133.40" y="506.40" font-size="7.9" text-anchor="start" font-weight="normal" font-style="normal" fill="#222" >No</text>
<rect x="124.60" y="509.00" width="6.90" height="6.90" fill="#f6f6f6" />
<text x="133.40" y="515.20" font-size="7.9" text-anchor="start" font-weight="normal" font-style="normal" fill="#222" >Yes</text>
<text x="183.30" y="496.40" font-size="7.9" text-anchor="start" font-weight="normal" font-style="normal" fill="#222" >Autologous SCT</text>
<rect x="183.30" y="500.20" width="6.90" height="6.90" fill="#9a5db0" />
<text x="192.60" y="506.40" font-size="7.9" text-anchor="start" font-weight="normal" font-style="normal" fill="#222" >Has received</text>
<rect x="183.30" y="509.00" width="6.90" height="6.90" fill="#f6f6f6" />
<text x="192.60" y="515.20" font-size="7.9" text-anchor="start" font-weight="normal" font-style="normal" fill="#222" >No</text>
<text x="8.00" y="543.00" font-size="7.9" text-anchor="start" font-weight="normal" font-style="normal" fill="#222" >TP53 mutation</text>
<rect x="8.00" y="546.40" width="6.90" height="6.90" fill="#1b98ae" />
<text x="16.50" y="552.60" font-size="7.9" text-anchor="start" font-weight="normal" font-style="normal" fill="#222" >Yes</text>
<rect x="8.00" y="555.20" width="6.90" height="6.90" fill="#f6f6f6" />
<text x="16.50" y="561.40" font-size="7.9" text-anchor="start" font-weight="normal" font-style="normal" fill="#222" >No</text>
<text x="69.50" y="543.00" font-size="7.9" text-anchor="start" font-weight="normal" font-style="normal" fill="#222" >MRD-ctDNA 6 cycles</text>
<rect x="69.50" y="546.40" width="6.90" height="6.90" fill="#ad1236" />
<text x="78.70" y="552.60" font-size="7.9" text-anchor="start" font-weight="normal" font-style="normal" fill="#222" >Positive</text>
<rect x="69.50" y="555.20" width="6.90" height="6.90" fill="#f6f6f6" />
<text x="78.70" y="561.40" font-size="7.9" text-anchor="start" font-weight="normal" font-style="normal" fill="#222" >Not detected</text>
<text x="157.20" y="543.00" font-size="7.9" text-anchor="start" font-weight="normal" font-style="normal" fill="#222" >Response after six months</text>
<rect x="157.20" y="546.90" width="6.90" height="6.90" fill="#ad1236" />
<text x="166.40" y="553.10" font-size="8.5" text-anchor="start" font-weight="normal" font-style="normal" fill="#222" >PD/SD</text>
<rect x="199.00" y="546.90" width="6.90" height="6.90" fill="#1b4f9b" />
<text x="208.60" y="553.10" font-size="8.5" text-anchor="start" font-weight="normal" font-style="normal" fill="#222" >CR</text>
<rect x="227.30" y="546.90" width="6.90" height="6.90" fill="#f4a582" />
<text x="235.80" y="553.10" font-size="8.5" text-anchor="start" font-weight="normal" font-style="normal" fill="#222" >PR</text>
<text x="8.00" y="580.30" font-size="7.9" text-anchor="start" font-weight="normal" font-style="normal" fill="#222" >Alterations</text>
<rect x="8.00" y="583.60" width="6.90" height="6.90" fill="#141414" />
<text x="16.50" y="589.80" font-size="7.9" text-anchor="start" font-weight="normal" font-style="normal" fill="#222" >Frameshift indel</text>
<rect x="8.00" y="592.80" width="6.90" height="6.90" fill="#1b98ae" />
<text x="16.50" y="599.00" font-size="7.9" text-anchor="start" font-weight="normal" font-style="normal" fill="#222" >Missense</text>
<rect x="8.00" y="602.00" width="6.90" height="6.90" fill="#1c3f78" />
<text x="16.50" y="608.20" font-size="7.9" text-anchor="start" font-weight="normal" font-style="normal" fill="#222" >Stoploss</text>
<rect x="80.00" y="583.60" width="6.90" height="6.90" fill="#ad1236" />
<text x="88.20" y="589.80" font-size="7.9" text-anchor="start" font-weight="normal" font-style="normal" fill="#222" >Stopgain</text>
<rect x="80.00" y="592.80" width="6.90" height="6.90" fill="#f3a68a" />
<text x="88.20" y="599.00" font-size="7.9" text-anchor="start" font-weight="normal" font-style="normal" fill="#222" >Splicing</text>
<rect x="80.00" y="602.00" width="6.90" height="6.90" fill="#9a5db0" />
<text x="88.20" y="608.20" font-size="7.9" text-anchor="start" font-weight="normal" font-style="normal" fill="#222" >Nonframeshift indel</text>
<text x="170.00" y="580.30" font-size="7.9" text-anchor="start" font-weight="normal" font-style="normal" fill="#222" >Progression/Death</text>
<rect x="170.00" y="583.80" width="6.90" height="6.90" fill="#141414" />
<text x="179.40" y="589.60" font-size="6.5" text-anchor="start" font-weight="normal" font-style="normal" fill="#222" >Yes</text>
<rect x="170.00" y="593.30" width="6.90" height="6.90" fill="#f6f6f6" />
<text x="179.40" y="599.30" font-size="6.5" text-anchor="start" font-weight="normal" font-style="normal" fill="#222" >No</text>
<text x="277.60" y="18.40" font-size="12.2" text-anchor="start" font-weight="bold" font-style="normal" fill="#000" >B</text>
<text x="398.20" y="35.20" font-size="10.1" text-anchor="middle" font-weight="normal" font-style="normal" fill="#222" >Fold-change (log10) in cumulative VAF</text>
<text x="397.80" y="48.10" font-size="10.1" text-anchor="middle" font-weight="normal" font-style="normal" fill="#222" >Six months of VEN-R2</text>
<text x="397.80" y="60.00" font-size="10.5" text-anchor="middle" font-weight="normal" font-style="normal" fill="#222" >95%-CI</text>
<text x="291.00" y="59.80" font-size="8.5" text-anchor="start" font-weight="normal" font-style="normal" fill="#222" >Gene</text>
<text x="467.00" y="60.20" font-size="8.3" text-anchor="start" font-weight="normal" font-style="normal" fill="#222" >FDR</text>
<text x="291.50" y="80.80" font-size="8.7" text-anchor="start" font-weight="normal" font-style="italic" fill="#222" >ATM</text>
<text x="467.00" y="80.90" font-size="8.6" text-anchor="start" font-weight="normal" font-style="normal" fill="#222" >0.127</text>
<line x1="340.12" y1="76.90" x2="411.42" y2="76.90" stroke="#9c2f4c" stroke-width="1"/>
<line x1="340.12" y1="74.30" x2="340.12" y2="79.50" stroke="#9c2f4c" stroke-width="1"/>
<line x1="411.42" y1="74.30" x2="411.42" y2="79.50" stroke="#9c2f4c" stroke-width="1"/>
<polygon points="370.34,76.90 376.14,71.10 381.94,76.90 376.14,82.70" fill="#c80c2e"/>
<text x="289.70" y="104.64" font-size="8.7" text-anchor="start" font-weight="normal" font-style="normal" fill="#222" >IG targets</text>
<text x="467.00" y="104.74" font-size="8.6" text-anchor="start" font-weight="normal" font-style="normal" fill="#222" >0.056</text>
<line x1="354.46" y1="100.74" x2="400.40" y2="100.74" stroke="#9c2f4c" stroke-width="1"/>
<line x1="354.46" y1="98.14" x2="354.46" y2="103.34" stroke="#9c2f4c" stroke-width="1"/>
<line x1="400.40" y1="98.14" x2="400.40" y2="103.34" stroke="#9c2f4c" stroke-width="1"/>
<polygon points="372.18,100.74 377.98,94.94 383.78,100.74 377.98,106.54" fill="#c80c2e"/>
<text x="291.50" y="128.48" font-size="8.7" text-anchor="start" font-weight="normal" font-style="italic" fill="#222" >TET2</text>
<text x="467.00" y="128.58" font-size="8.6" text-anchor="start" font-weight="normal" font-style="normal" fill="#222" >0.131</text>
<line x1="398.56" y1="124.58" x2="428.69" y2="124.58" stroke="#9c2f4c" stroke-width="1"/>
<line x1="398.56" y1="121.98" x2="398.56" y2="127.18" stroke="#9c2f4c" stroke-width="1"/>
<line x1="428.69" y1="121.98" x2="428.69" y2="127.18" stroke="#9c2f4c" stroke-width="1"/>
<polygon points="407.82,124.58 413.62,118.78 419.43,124.58 413.62,130.38" fill="#c80c2e"/>
<text x="291.50" y="152.32" font-size="8.7" text-anchor="start" font-weight="normal" font-style="italic" fill="#222" >PPM1D</text>
<text x="467.00" y="152.42" font-size="8.6" text-anchor="start" font-weight="normal" font-style="normal" fill="#222" >0.009</text>
<line x1="408.11" y1="148.42" x2="423.18" y2="148.42" stroke="#9c2f4c" stroke-width="1"/>
<line x1="408.11" y1="145.82" x2="408.11" y2="151.02" stroke="#9c2f4c" stroke-width="1"/>
<line x1="423.18" y1="145.82" x2="423.18" y2="151.02" stroke="#9c2f4c" stroke-width="1"/>
<polygon points="409.66,148.42 415.46,142.62 421.26,148.42 415.46,154.22" fill="#c80c2e"/>
<text x="291.50" y="176.16" font-size="8.7" text-anchor="start" font-weight="normal" font-style="italic" fill="#222" >DNMT3A</text>
<text x="467.00" y="176.26" font-size="8.6" text-anchor="start" font-weight="normal" font-style="normal" fill="#222" >0.056</text>
<line x1="404.44" y1="172.26" x2="430.53" y2="172.26" stroke="#9c2f4c" stroke-width="1"/>
<line x1="404.44" y1="169.66" x2="404.44" y2="174.86" stroke="#9c2f4c" stroke-width="1"/>
<line x1="430.53" y1="169.66" x2="430.53" y2="174.86" stroke="#9c2f4c" stroke-width="1"/>
<polygon points="411.50,172.26 417.30,166.46 423.10,172.26 417.30,178.06" fill="#c80c2e"/>
<text x="291.50" y="200.00" font-size="8.7" text-anchor="start" font-weight="normal" font-style="italic" fill="#222" >ASXL1</text>
<text x="467.00" y="200.10" font-size="8.6" text-anchor="start" font-weight="normal" font-style="normal" fill="#222" >0.086</text>
<line x1="401.50" y1="196.10" x2="443.76" y2="196.10" stroke="#9c2f4c" stroke-width="1"/>
<line x1="401.50" y1="193.50" x2="401.50" y2="198.70" stroke="#9c2f4c" stroke-width="1"/>
<line x1="443.76" y1="193.50" x2="443.76" y2="198.70" stroke="#9c2f4c" stroke-width="1"/>
<polygon points="416.28,196.10 422.08,190.30 427.88,196.10 422.08,201.90" fill="#c80c2e"/>
<text x="291.50" y="223.84" font-size="8.7" text-anchor="start" font-weight="normal" font-style="italic" fill="#222" >TP53</text>
<text x="465.50" y="223.94" font-size="8.6" text-anchor="start" font-weight="normal" font-style="normal" fill="#222" >&lt;0.001</text>
<line x1="426.12" y1="219.94" x2="448.54" y2="219.94" stroke="#9c2f4c" stroke-width="1"/>
<line x1="426.12" y1="217.34" x2="426.12" y2="222.54" stroke="#9c2f4c" stroke-width="1"/>
<line x1="448.54" y1="217.34" x2="448.54" y2="222.54" stroke="#9c2f4c" stroke-width="1"/>
<polygon points="431.71,219.94 437.51,214.14 443.31,219.94 437.51,225.74" fill="#c80c2e"/>
<line x1="402.60" y1="63.8" x2="402.60" y2="232.2" stroke="#222" stroke-width="1.1"/>
<line x1="344.90" y1="231.7" x2="441.92" y2="231.7" stroke="#222" stroke-width="1"/>
<line x1="347.48" y1="231.7" x2="347.48" y2="234.8" stroke="#222" stroke-width="1"/>
<text x="347.48" y="246.00" font-size="8.8" text-anchor="middle" font-weight="normal" font-style="normal" fill="#222" >−1.5</text>
<line x1="365.85" y1="231.7" x2="365.85" y2="234.8" stroke="#222" stroke-width="1"/>
<line x1="384.23" y1="231.7" x2="384.23" y2="234.8" stroke="#222" stroke-width="1"/>
<text x="384.23" y="246.00" font-size="8.8" text-anchor="middle" font-weight="normal" font-style="normal" fill="#222" >−0.5</text>
<line x1="402.60" y1="231.7" x2="402.60" y2="234.8" stroke="#222" stroke-width="1"/>
<text x="402.60" y="246.00" font-size="8.8" text-anchor="middle" font-weight="normal" font-style="normal" fill="#222" >0</text>
<line x1="420.98" y1="231.7" x2="420.98" y2="234.8" stroke="#222" stroke-width="1"/>
<text x="420.98" y="246.00" font-size="8.8" text-anchor="middle" font-weight="normal" font-style="normal" fill="#222" >0.5</text>
<line x1="439.35" y1="231.7" x2="439.35" y2="234.8" stroke="#222" stroke-width="1"/>
<text x="439.35" y="246.00" font-size="8.8" text-anchor="middle" font-weight="normal" font-style="normal" fill="#222" >1</text>
<text x="319.70" y="259.20" font-size="8.7" text-anchor="start" font-weight="normal" font-style="normal" fill="#222" >Depleted</text>
<text x="451.00" y="259.20" font-size="8.4" text-anchor="start" font-weight="normal" font-style="normal" fill="#222" >Enriched</text>
<line x1="362" y1="256.2" x2="396" y2="256.2" stroke="#111" stroke-width="1"/>
<polygon points="357.5,256.2 364.5,252.6 364.5,259.8" fill="#111"/>
<line x1="410" y1="256.2" x2="444" y2="256.2" stroke="#111" stroke-width="1"/>
<polygon points="449,256.2 442,252.6 442,259.8" fill="#111"/>
<text x="277.30" y="289.30" font-size="12.6" text-anchor="start" font-weight="bold" font-style="normal" fill="#000" >C</text>
<text x="358.40" y="305.00" font-size="8.4" text-anchor="middle" font-weight="normal" font-style="normal" fill="#222" >Neutropenia</text>
<text x="454.00" y="305.00" font-size="8.4" text-anchor="middle" font-weight="normal" font-style="normal" fill="#222" >Thrombocytopenia</text>
<text x="358.70" y="318.70" font-size="8.6" text-anchor="middle" font-weight="normal" font-style="normal" fill="#222" >0.0048</text>
<text x="454.10" y="318.70" font-size="8.6" text-anchor="middle" font-weight="normal" font-style="normal" fill="#222" >0.0096</text>
<polyline points="338.4,324.59999999999997 338.4,321.2 378.5,321.2 378.5,324.59999999999997" fill="none" stroke="#222" stroke-width="1"/>
<polyline points="433.9,324.4 433.9,321.0 474.2,321.0 474.2,324.4" fill="none" stroke="#222" stroke-width="1"/>
<line x1="315.2" y1="315.5" x2="315.2" y2="433.5" stroke="#222" stroke-width="1"/>
<line x1="312" y1="427.70" x2="315.2" y2="427.70" stroke="#222" stroke-width="1"/>
<text x="308.00" y="430.80" font-size="8.4" text-anchor="end" font-weight="normal" font-style="normal" fill="#222" >0</text>
<line x1="312" y1="401.27" x2="315.2" y2="401.27" stroke="#222" stroke-width="1"/>
<text x="308.00" y="404.38" font-size="8.4" text-anchor="end" font-weight="normal" font-style="normal" fill="#222" >50</text>
<line x1="312" y1="374.85" x2="315.2" y2="374.85" stroke="#222" stroke-width="1"/>
<text x="308.00" y="377.95" font-size="8.4" text-anchor="end" font-weight="normal" font-style="normal" fill="#222" >100</text>
<line x1="312" y1="348.43" x2="315.2" y2="348.43" stroke="#222" stroke-width="1"/>
<text x="308.00" y="351.53" font-size="8.4" text-anchor="end" font-weight="normal" font-style="normal" fill="#222" >150</text>
<line x1="312" y1="322.00" x2="315.2" y2="322.00" stroke="#222" stroke-width="1"/>
<text x="308.00" y="325.10" font-size="8.4" text-anchor="end" font-weight="normal" font-style="normal" fill="#222" >200</text>
<text x="0" y="0" font-size="7.4" fill="#222" text-anchor="middle" textLength="14.6" lengthAdjust="spacingAndGlyphs" transform="translate(283.6,378.7) rotate(-90)" style="font-stretch:condensed">Days</text>
<line x1="315.2" y1="433.3" x2="402.4" y2="433.3" stroke="#222" stroke-width="1"/>
<line x1="410.2" y1="433.3" x2="498.4" y2="433.3" stroke="#222" stroke-width="1"/>
<line x1="338.7" y1="433.3" x2="338.7" y2="436.3" stroke="#222" stroke-width="1"/>
<line x1="378.4" y1="433.3" x2="378.4" y2="436.3" stroke="#222" stroke-width="1"/>
<line x1="433.9" y1="433.3" x2="433.9" y2="436.3" stroke="#222" stroke-width="1"/>
<line x1="474.1" y1="433.3" x2="474.1" y2="436.3" stroke="#222" stroke-width="1"/>
<text x="339.00" y="448.00" font-size="8.2" text-anchor="middle" font-weight="normal" font-style="normal" fill="#222" >No</text>
<text x="378.40" y="448.00" font-size="8.2" text-anchor="middle" font-weight="normal" font-style="normal" fill="#222" >Yes</text>
<text x="434.20" y="448.00" font-size="8.2" text-anchor="middle" font-weight="normal" font-style="normal" fill="#222" >No</text>
<text x="473.60" y="448.00" font-size="8.2" text-anchor="middle" font-weight="normal" font-style="normal" fill="#222" >Yes</text>
<text x="406.8" y="461.2" font-size="9.6" fill="#222" stroke="#222" stroke-width="0.15" text-anchor="middle" textLength="77.2" lengthAdjust="spacingAndGlyphs"><tspan font-style="italic">PPM1D / TP53</tspan> mutation</text>
<text x="406.5" y="471.6" font-size="9.6" fill="#222" stroke="#222" stroke-width="0.15" text-anchor="middle" textLength="106.8" lengthAdjust="spacingAndGlyphs">(at inclusion, &gt; 1% VAF BM / PB)</text>
<line x1="338.9" y1="392.29" x2="338.9" y2="427.70" stroke="#333" stroke-width="0.8"/>
<rect x="324.10" y="404.97" width="29.60" height="22.73" fill="#c8c8cc" stroke="#777" stroke-width="0.3"/>
<line x1="324.10" y1="427.70" x2="353.70" y2="427.70" stroke="#111" stroke-width="1.3"/>
<line x1="378.6" y1="365.87" x2="378.6" y2="427.70" stroke="#333" stroke-width="0.8"/>
<rect x="363.80" y="374.32" width="29.60" height="42.28" fill="#2a9ddb" stroke="#777" stroke-width="0.3"/>
<line x1="363.80" y1="386.21" x2="393.40" y2="386.21" stroke="#1d5780" stroke-width="1.3"/>
<line x1="433.9" y1="427.70" x2="433.9" y2="427.70" stroke="#333" stroke-width="0.8"/>
<rect x="419.10" y="427.70" width="29.60" height="0.00" fill="#cccccc" stroke="#777" stroke-width="0.3"/>
<line x1="419.10" y1="427.70" x2="448.70" y2="427.70" stroke="#111" stroke-width="1.3"/>
<line x1="474" y1="397.05" x2="474" y2="427.70" stroke="#333" stroke-width="0.8"/>
<rect x="459.20" y="407.88" width="29.60" height="19.55" fill="#e58a84" stroke="#777" stroke-width="0.3"/>
<line x1="459.20" y1="424.00" x2="488.80" y2="424.00" stroke="#3a2a2a" stroke-width="1.3"/>
<circle cx="338.70" cy="326.23" r="1.35" fill="#111"/>
<circle cx="338.70" cy="363.75" r="1.35" fill="#111"/>
<circle cx="337.60" cy="391.76" r="1.35" fill="#111"/>
<circle cx="336.00" cy="402.01" r="1.35" fill="#111"/>
<circle cx="338.70" cy="400.75" r="1.35" fill="#111"/>
<circle cx="341.70" cy="399.69" r="1.35" fill="#111"/>
<circle cx="340.10" cy="412.90" r="1.35" fill="#111"/>
<circle cx="337.20" cy="418.19" r="1.35" fill="#111"/>
<circle cx="339.40" cy="421.36" r="1.35" fill="#111"/>
<circle cx="329.90" cy="422.41" r="1.35" fill="#111"/>
<circle cx="350.10" cy="424.00" r="1.35" fill="#111"/>
<circle cx="325.50" cy="427.70" r="1.35" fill="#111"/>
<circle cx="326.80" cy="427.70" r="1.35" fill="#111"/>
<circle cx="328.10" cy="427.70" r="1.35" fill="#111"/>
<circle cx="329.40" cy="427.70" r="1.35" fill="#111"/>
<circle cx="330.70" cy="427.70" r="1.35" fill="#111"/>
<circle cx="332.00" cy="427.70" r="1.35" fill="#111"/>
<circle cx="333.30" cy="427.70" r="1.35" fill="#111"/>
<circle cx="334.60" cy="427.70" r="1.35" fill="#111"/>
<circle cx="335.90" cy="427.70" r="1.35" fill="#111"/>
<circle cx="337.20" cy="427.70" r="1.35" fill="#111"/>
<circle cx="338.50" cy="427.70" r="1.35" fill="#111"/>
<circle cx="339.80" cy="427.70" r="1.35" fill="#111"/>
<circle cx="341.10" cy="427.70" r="1.35" fill="#111"/>
<circle cx="342.40" cy="427.70" r="1.35" fill="#111"/>
<circle cx="343.70" cy="427.70" r="1.35" fill="#111"/>
<circle cx="345.00" cy="427.70" r="1.35" fill="#111"/>
<circle cx="346.30" cy="427.70" r="1.35" fill="#111"/>
<circle cx="347.60" cy="427.70" r="1.35" fill="#111"/>
<circle cx="348.90" cy="427.70" r="1.35" fill="#111"/>
<circle cx="350.20" cy="427.70" r="1.35" fill="#111"/>
<circle cx="351.50" cy="427.70" r="1.35" fill="#111"/>
<circle cx="352.80" cy="427.70" r="1.35" fill="#111"/>
<circle cx="372.30" cy="365.34" r="1.35" fill="#111"/>
<circle cx="373.00" cy="372.21" r="1.35" fill="#111"/>
<circle cx="380.20" cy="374.85" r="1.35" fill="#111"/>
<circle cx="388.20" cy="371.15" r="1.35" fill="#111"/>
<circle cx="364.80" cy="376.44" r="1.35" fill="#111"/>
<circle cx="386.40" cy="384.36" r="1.35" fill="#111"/>
<circle cx="376.40" cy="388.33" r="1.35" fill="#111"/>
<circle cx="380.90" cy="412.90" r="1.35" fill="#111"/>
<circle cx="369.40" cy="416.60" r="1.35" fill="#111"/>
<circle cx="384.80" cy="417.66" r="1.35" fill="#111"/>
<circle cx="373.20" cy="425.06" r="1.35" fill="#111"/>
<circle cx="378.40" cy="427.70" r="1.35" fill="#111"/>
<circle cx="433.90" cy="392.29" r="1.35" fill="#111"/>
<circle cx="434.40" cy="409.73" r="1.35" fill="#111"/>
<circle cx="427.40" cy="425.85" r="1.35" fill="#111"/>
<circle cx="419.50" cy="427.70" r="1.05" fill="#111"/>
<circle cx="420.95" cy="427.70" r="1.05" fill="#111"/>
<circle cx="422.40" cy="427.70" r="1.05" fill="#111"/>
<circle cx="423.85" cy="427.70" r="1.05" fill="#111"/>
<circle cx="425.30" cy="427.70" r="1.05" fill="#111"/>
<circle cx="426.75" cy="427.70" r="1.05" fill="#111"/>
<circle cx="428.20" cy="427.70" r="1.05" fill="#111"/>
<circle cx="429.65" cy="427.70" r="1.05" fill="#111"/>
<circle cx="431.10" cy="427.70" r="1.05" fill="#111"/>
<circle cx="432.55" cy="427.70" r="1.05" fill="#111"/>
<circle cx="434.00" cy="427.70" r="1.05" fill="#111"/>
<circle cx="435.45" cy="427.70" r="1.05" fill="#111"/>
<circle cx="436.90" cy="427.70" r="1.05" fill="#111"/>
<circle cx="438.35" cy="427.70" r="1.05" fill="#111"/>
<circle cx="439.80" cy="427.70" r="1.05" fill="#111"/>
<circle cx="441.25" cy="427.70" r="1.05" fill="#111"/>
<circle cx="442.70" cy="427.70" r="1.05" fill="#111"/>
<circle cx="444.15" cy="427.70" r="1.05" fill="#111"/>
<circle cx="445.60" cy="427.70" r="1.05" fill="#111"/>
<circle cx="447.05" cy="427.70" r="1.05" fill="#111"/>
<circle cx="448.50" cy="427.70" r="1.05" fill="#111"/>
<circle cx="472.40" cy="375.91" r="1.35" fill="#111"/>
<circle cx="475.30" cy="397.05" r="1.35" fill="#111"/>
<circle cx="472.40" cy="403.92" r="1.35" fill="#111"/>
<circle cx="474.30" cy="408.67" r="1.35" fill="#111"/>
<circle cx="467.50" cy="420.30" r="1.35" fill="#111"/>
<circle cx="480.20" cy="420.83" r="1.35" fill="#111"/>
<circle cx="462.50" cy="427.70" r="1.35" fill="#111"/>
<circle cx="465.90" cy="427.70" r="1.35" fill="#111"/>
<circle cx="469.30" cy="427.70" r="1.35" fill="#111"/>
<circle cx="472.70" cy="427.70" r="1.35" fill="#111"/>
<circle cx="476.10" cy="427.70" r="1.35" fill="#111"/>
<circle cx="479.50" cy="427.70" r="1.35" fill="#111"/>
<circle cx="482.90" cy="427.70" r="1.35" fill="#111"/>
<text x="278.30" y="503.00" font-size="12.6" text-anchor="start" font-weight="bold" font-style="normal" fill="#000" >D</text>
<text x="278.70" y="520.00" font-size="9" text-anchor="start" font-weight="bold" font-style="normal" fill="#222" >Multivariable</text>
<text x="375.00" y="520.00" font-size="9" text-anchor="start" font-weight="bold" font-style="normal" fill="#222" >HR</text>
<text x="474" y="520" font-size="9" font-weight="bold" fill="#222"><tspan font-style="italic">P</tspan> value</text>
<line x1="277.5" y1="526.2" x2="514" y2="526.2" stroke="#111" stroke-width="1.3"/>
<text x="278.7" y="542.20" font-size="8.5" fill="#222">MCL (<tspan font-style="italic">TP53</tspan>)</text>
<text x="373.30" y="542.20" font-size="8.4" text-anchor="start" font-weight="normal" font-style="normal" fill="#222" >5.76</text>
<text x="481.30" y="542.20" font-size="8.7" text-anchor="start" font-weight="normal" font-style="normal" fill="#222" >.001</text>
<line x1="417.70" y1="538.80" x2="469.50" y2="538.80" stroke="#c8506c" stroke-width="1"/>
<line x1="417.70" y1="535.80" x2="417.70" y2="541.80" stroke="#c8506c" stroke-width="1"/>
<polyline points="463.50,535.20 469.50,538.80 463.50,542.40" fill="none" stroke="#c8506c" stroke-width="1"/>
<polygon points="437.27,538.80 445.47,530.60 453.67,538.80 445.47,547.00" fill="#c80c2e"/>
<text x="278.7" y="562.90" font-size="8.5" fill="#222">CH (<tspan font-style="italic">TP53/PPM1D</tspan>)</text>
<text x="373.30" y="562.90" font-size="8.4" text-anchor="start" font-weight="normal" font-style="normal" fill="#222" >3.85</text>
<text x="481.30" y="562.90" font-size="8.7" text-anchor="start" font-weight="normal" font-style="normal" fill="#222" >.010</text>
<line x1="407.30" y1="559.50" x2="462.60" y2="559.50" stroke="#c8506c" stroke-width="1"/>
<line x1="407.30" y1="556.50" x2="407.30" y2="562.50" stroke="#c8506c" stroke-width="1"/>
<line x1="462.60" y1="556.50" x2="462.60" y2="562.50" stroke="#c8506c" stroke-width="1"/>
<polygon points="426.70,559.50 434.90,551.30 443.10,559.50 434.90,567.70" fill="#c80c2e"/>
<text x="278.7" y="583.60" font-size="8.5" fill="#222">MIPI score</text>
<text x="373.30" y="583.60" font-size="8.4" text-anchor="start" font-weight="normal" font-style="normal" fill="#222" >2.66</text>
<text x="481.30" y="583.60" font-size="8.7" text-anchor="start" font-weight="normal" font-style="normal" fill="#222" >.017</text>
<line x1="403.85" y1="580.20" x2="446.98" y2="580.20" stroke="#c8506c" stroke-width="1"/>
<line x1="403.85" y1="577.20" x2="403.85" y2="583.20" stroke="#c8506c" stroke-width="1"/>
<line x1="446.98" y1="577.20" x2="446.98" y2="583.20" stroke="#c8506c" stroke-width="1"/>
<polygon points="416.99,580.20 425.19,572.00 433.39,580.20 425.19,588.40" fill="#c80c2e"/>
<line x1="399.6" y1="527" x2="399.6" y2="593" stroke="#111" stroke-width="1.1"/>
<line x1="396.3" y1="592.6" x2="439.8" y2="592.6" stroke="#111" stroke-width="1.1"/>
<line x1="399.50" y1="592.6" x2="399.50" y2="595.8" stroke="#111" stroke-width="1"/>
<text x="399.50" y="606.80" font-size="8.2" text-anchor="middle" font-weight="normal" font-style="normal" fill="#222" >1.0</text>
<line x1="417.70" y1="592.6" x2="417.70" y2="595.8" stroke="#111" stroke-width="1"/>
<text x="417.70" y="606.80" font-size="8.2" text-anchor="middle" font-weight="normal" font-style="normal" fill="#222" >2.0</text>
<line x1="435.90" y1="592.6" x2="435.90" y2="595.8" stroke="#111" stroke-width="1"/>
<text x="435.90" y="606.80" font-size="8.2" text-anchor="middle" font-weight="normal" font-style="normal" fill="#222" >4.0</text>
<rect x="0.5" y="0.5" width="519" height="616" fill="none" stroke="#3a3a3a" stroke-width="1"/>
</svg>
</body></html>
